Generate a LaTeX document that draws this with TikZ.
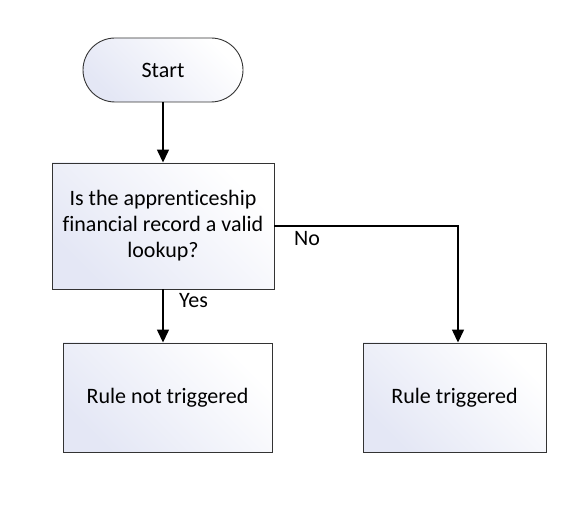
\documentclass[tikz,border=0pt]{standalone}
\usepackage{fontspec}
\setmainfont{Carlito}[Ligatures=NoCommon]
\usetikzlibrary{arrows.meta}
\definecolor{shadeA}{RGB}{228,231,245}
\begin{document}
\begin{tikzpicture}[x=1pt,y=1pt,
  box/.style={draw=black!80, line width=0.9pt, left color=shadeA, right color=white, shading angle=135, align=center, font=\fontsize{22}{26}\selectfont, inner sep=0pt},
  conn/.style={line width=1.4pt, -{Triangle[length=13pt,width=12pt]}},
  lbl/.style={font=\fontsize{22}{26}\selectfont, inner sep=0pt}]
\useasboundingbox (0,0) rectangle (586,532);
\node[box, rounded corners=32pt, minimum width=160pt, minimum height=64pt] (start) at (163,462) {Start};
\node[box, minimum width=222pt, minimum height=126pt] (dec) at (163,306) {Is the apprenticeship\\financial record a valid\\lookup?};
\node[box, minimum width=209pt, minimum height=109pt] (no) at (167.5,134.5) {Rule not triggered};
\node[box, minimum width=183pt, minimum height=109pt] (yes) at (454.5,134.5) {Rule triggered};
\draw[conn] (start.south) -- (dec.north);
\draw[conn] (dec.south) -- (dec.south |- no.north);
\coordinate (c1) at (458,306);
\draw[conn] (dec.east) -- (c1) -- (c1 |- yes.north);
\node[lbl, anchor=west] (yeslbl) at (179,231) {Yes};
\node[lbl, anchor=west] (nolbl) at (294,293) {No};
\end{tikzpicture}
\end{document}
